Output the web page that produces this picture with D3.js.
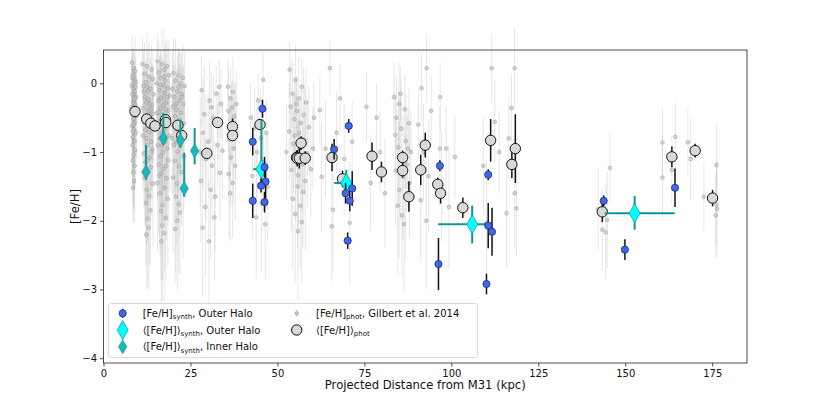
<!DOCTYPE html>
<html><head><meta charset="utf-8">
<script src="https://cdn.jsdelivr.net/npm/d3@7"></script>
<style>body{margin:0;background:#fff}text{font-family:"DejaVu Sans",sans-serif}</style>
</head><body><svg id="c" width="830" height="415"></svg>
<script>
// ---- data ----
const xTicks = [0,25,50,75,100,125,150,175];
const yTicks = [-4,-3,-2,-1,0];
// Gilbert et al. 2014 photometric [Fe/H]: [distance, feh, err]
const photStars = [
[8.2,0.30,0.4],[8.6,0.22,0.3],[9.1,0.18,0.5],[8.4,0.12,0.35],[8.9,0.05,0.4],[9.3,0.02,0.3],[8.1,-0.03,0.45],[8.7,-0.08,0.3],[9.0,-0.12,0.5],[8.3,-0.16,0.4],[9.4,-0.2,0.35],[8.8,-0.24,0.4],[8.5,-0.28,0.6],[9.2,-0.31,0.3],[8.0,-0.35,0.5],[8.9,-0.39,0.4],[8.4,-0.44,0.45],[9.5,-0.48,0.6],[8.6,-0.52,0.5],[9.0,-0.57,0.4],[8.2,-0.62,0.7],[8.8,-0.67,0.5],[9.3,-0.72,0.6],[8.5,-0.78,0.55],[8.9,-0.84,0.7],[8.3,-0.9,0.6],[9.1,-0.97,0.5],[8.7,-1.04,0.8],[8.4,-1.12,0.6],[9.0,-1.2,0.7],[8.6,-1.3,0.5],[8.8,-1.42,0.6],[8.5,-1.52,0.5],[9.2,-0.05,0.3],[8.6,-0.42,0.35],[8.3,0.08,0.35],[9.0,-0.22,0.4],[8.7,-0.6,0.5],[8.4,-0.7,0.6],
[11.2,0.28,0.4],[12.5,0.25,0.5],[13.8,0.2,0.35],[11.8,0.14,0.45],[13.1,0.1,0.5],[14.2,0.06,0.4],[12.2,0.02,0.3],[11.5,-0.04,0.5],[13.5,-0.08,0.45],[12.8,-0.12,0.6],[14.4,-0.16,0.4],[11.9,-0.2,0.5],[13.0,-0.24,0.35],[12.4,-0.28,0.55],[13.9,-0.32,0.6],[11.4,-0.36,0.5],[12.9,-0.4,0.45],[14.1,-0.44,0.7],[12.1,-0.48,0.5],[13.4,-0.52,0.6],[11.7,-0.57,0.55],[12.7,-0.62,0.7],[14.3,-0.66,0.5],[13.2,-0.71,0.6],[11.3,-0.76,0.8],[12.3,-0.8,0.6],[13.7,-0.85,0.7],[12.6,-0.9,0.9],[14.0,-0.96,0.6],[11.6,-1.02,0.8],[13.3,-1.08,0.7],[12.0,-1.15,0.9],[13.6,-1.22,0.8],[12.8,-1.3,1.0],[11.9,-1.38,0.7],[14.2,-1.46,0.9],[12.4,-1.55,0.8],[13.1,-1.64,1.0],[12.2,-1.74,0.9],[13.5,-1.85,0.8],[12.7,-1.97,1.0],[13.0,-2.1,0.9],[12.3,-2.2,0.8],[13.3,-0.3,0.4],[11.6,-0.12,0.4],[14.0,-0.55,0.5],[12.5,-0.05,0.4],[13.6,-0.38,0.5],[12.0,-0.68,0.6],[13.9,-1.0,0.7],[12.6,-1.12,0.8],
[15.5,0.32,0.4],[16.8,0.28,0.5],[18.2,0.25,0.4],[17.4,0.2,0.6],[15.9,0.16,0.45],[18.8,0.12,0.5],[16.4,0.08,0.4],[17.8,0.04,0.55],[15.3,0.0,0.5],[17.1,-0.03,0.4],[18.5,-0.07,0.6],[16.1,-0.1,0.5],[17.6,-0.14,0.45],[19.0,-0.18,0.5],[16.6,-0.21,0.6],[15.7,-0.25,0.5],[18.0,-0.28,0.7],[17.2,-0.32,0.5],[16.3,-0.36,0.6],[18.7,-0.4,0.55],[15.4,-0.43,0.7],[17.0,-0.47,0.6],[17.9,-0.51,0.5],[16.5,-0.55,0.8],[18.4,-0.59,0.6],[15.8,-0.63,0.7],[17.5,-0.67,0.9],[16.9,-0.71,0.6],[18.9,-0.76,0.8],[16.2,-0.8,0.7],[17.7,-0.85,0.9],[15.6,-0.9,0.8],[18.3,-0.95,0.7],[17.0,-1.0,1.0],[16.4,-1.06,0.8],[18.6,-1.12,0.9],[15.9,-1.18,1.0],[17.3,-1.24,0.8],[16.7,-1.31,1.1],[18.1,-1.38,0.9],[15.5,-1.45,1.0],[17.6,-1.52,1.2],[16.2,-1.6,0.9],[18.5,-1.68,1.0],[17.0,-1.77,1.1],[16.5,-1.86,1.0],[17.9,-1.96,0.9],[16.9,-2.07,1.1],[17.4,-2.18,1.0],[16.6,-2.3,0.9],[17.2,-0.6,0.5],[16.0,-0.42,0.4],[18.2,-0.2,0.45],[17.5,0.1,0.4],[16.3,-0.02,0.45],[17.8,-0.38,0.5],[16.8,-0.9,0.7],[18.0,-1.2,0.8],[16.1,-1.35,0.9],
[20.1,0.15,0.5],[21.5,0.12,0.4],[22.8,0.08,0.5],[20.7,0.04,0.6],[22.2,0.0,0.45],[23.3,-0.04,0.5],[19.8,-0.08,0.55],[21.2,-0.12,0.5],[22.5,-0.16,0.6],[20.4,-0.2,0.5],[21.8,-0.25,0.7],[23.0,-0.3,0.55],[19.9,-0.34,0.6],[21.0,-0.38,0.5],[22.3,-0.43,0.7],[20.6,-0.48,0.6],[21.9,-0.53,0.8],[23.2,-0.58,0.6],[20.2,-0.63,0.7],[21.4,-0.68,0.9],[22.7,-0.74,0.7],[19.7,-0.8,0.8],[20.9,-0.86,0.7],[22.1,-0.92,0.9],[21.3,-0.99,1.0],[23.1,-1.06,0.8],[20.5,-1.13,0.9],[21.7,-1.21,1.0],[22.4,-1.29,0.8],[20.0,-1.37,1.1],[21.1,-1.46,0.9],[22.9,-1.55,1.0],[20.8,-1.65,1.1],[21.6,-1.76,1.0],[22.0,-1.88,0.9],[21.2,-2.0,1.0],[20.6,-2.12,0.8],[22.6,-0.2,0.4],[20.3,-0.9,0.7],[21.6,-0.05,0.5],[20.9,-0.3,0.5],[22.0,-0.6,0.6],
[28.2,-0.1,0.5],[30.5,-0.25,0.6],[32.4,-0.15,0.4],[33.8,-0.3,0.5],[29.0,-0.45,0.7],[31.6,-0.5,0.6],[33.0,-0.62,0.5],[28.6,-0.72,0.8],[30.1,-0.85,0.7],[32.8,-0.9,0.6],[34.2,-0.98,0.7],[29.5,-1.1,0.9],[31.2,-1.2,0.8],[33.5,-1.3,0.7],[28.0,-1.42,0.9],[30.8,-1.55,1.0],[32.1,-1.65,0.8],[29.3,-1.8,1.0],[31.9,-1.95,0.9],[28.5,-2.1,1.0],[30.3,-2.3,0.9],[33.3,-0.05,0.4],[31.0,-0.35,0.5],[27.8,-1.0,0.8],
[35.8,-0.05,0.4],[37.2,-0.12,0.5],[36.5,-0.22,0.45],[38.2,-0.3,0.5],[35.9,-0.4,0.6],[37.6,-0.48,0.5],[36.8,-0.58,0.6],[38.0,-0.7,0.7],[36.2,-0.82,0.6],[37.4,-0.95,0.8],[36.6,-1.08,0.7],[37.9,-1.2,0.8],[36.0,-1.32,0.9],[37.1,-1.45,0.8],[36.4,-1.6,0.7],[37.0,-0.35,0.4],
[42.3,-0.5,0.5],[43.5,-0.65,0.6],[45.2,-0.8,0.7],[46.8,-0.72,0.5],[44.1,-1.0,0.8],[46.0,-1.15,0.7],[42.8,-1.35,0.9],[47.2,-1.5,0.8],[45.5,-1.75,1.0],[43.9,-1.95,0.9],[46.5,-2.05,0.8],[45.9,0.05,0.4],[44.5,-0.25,0.4],
[53.5,0.2,0.4],[55.2,0.05,0.5],[57.0,-0.05,0.4],[54.3,-0.15,0.5],[56.1,-0.22,0.6],[58.2,-0.28,0.5],[53.8,-0.34,0.6],[55.6,-0.4,0.5],[57.5,-0.46,0.7],[54.9,-0.52,0.6],[56.7,-0.58,0.5],[59.0,-0.64,0.6],[53.4,-0.7,0.7],[55.0,-0.76,0.6],[57.8,-0.82,0.8],[54.6,-0.88,0.7],[56.4,-0.95,0.6],[58.6,-1.02,0.8],[55.3,-1.1,0.9],[57.2,-1.18,0.7],[54.0,-1.26,0.9],[56.0,-1.34,0.8],[58.0,-1.42,1.0],[55.8,-1.5,0.9],[57.4,-1.58,0.8],[54.4,-1.68,1.0],[56.6,-1.78,0.9],[55.1,-1.9,1.0],[57.0,-2.02,0.9],[55.9,-2.15,1.0],[60.5,-0.5,0.5],[59.6,-1.25,0.7],[60.2,-0.95,0.6],[52.6,-1.0,0.7],[56.2,-0.72,0.5],[55.5,-0.3,0.4],
[62.2,-0.39,0.5],[65.1,0.22,0.4],[68.0,-0.22,0.5],[62.7,-1.36,0.8],[66.0,-1.84,0.9],[65.6,-2.08,0.8],[70.8,-2.03,0.9],[67.0,-0.72,0.6],[63.8,-0.95,0.7],[69.2,-1.1,0.8],[71.5,-0.85,0.6],
[78.5,-0.5,0.5],[80.9,-1.6,0.8],[75.6,-0.34,0.5],[79.5,-1.0,0.6],[76.8,-1.45,0.7],
[83.5,-0.2,0.5],[85.0,-0.3,0.6],[86.6,-0.38,0.5],[84.2,-0.5,0.6],[87.8,-0.58,0.5],[85.6,-0.66,0.7],[83.9,-0.75,0.6],[86.9,-0.84,0.7],[84.8,-0.93,0.8],[88.4,-1.0,0.6],[85.3,-1.1,0.9],[87.2,-1.18,0.7],[84.0,-1.27,0.8],[86.1,-1.36,0.9],[88.0,-1.45,0.8],[85.0,-1.55,1.0],[86.8,-1.66,0.9],[84.6,-1.78,1.0],[85.8,-1.92,0.9],[86.4,-2.05,1.0],[85.4,-0.15,0.4],[87.5,-0.95,0.6],
[90.5,-0.6,0.5],[92.0,-1.0,0.7],[93.5,-1.35,0.8],[91.2,-1.7,0.9],[94.2,-0.4,0.5],[92.8,-2.0,1.0],[91.4,-0.07,0.5],[92.9,0.22,0.5],
[96.8,-0.2,0.5],[98.5,-0.95,0.6],[97.2,-1.5,0.8],[99.3,-1.8,0.9],[96.7,-0.95,0.6],[101.0,-1.07,0.6],
[111.6,0.22,0.5],[118.2,0.22,0.6],[117.3,-0.36,0.5],[118.2,-1.6,0.8],[118.7,-1.82,0.7],[115.9,-1.89,0.8],[112.5,-0.56,0.6],[110.1,-2.03,0.9],[109.2,-1.2,0.7],[113.8,-1.0,0.6],[116.5,-0.8,0.6],
[145.6,-1.23,0.5],[142.2,-1.83,0.6],[144.8,-1.99,0.7],[143.4,-2.13,0.6],[144.4,-2.17,0.7],[160.7,-0.86,0.5],[164.4,-0.78,0.5],[160.7,-1.37,0.6],[163.4,-1.26,0.5],[168.0,-0.86,0.5],[168.8,-1.1,0.6],[176.2,-1.19,0.6],[172.6,-1.65,0.5],[176.4,-1.83,0.7],[176.0,-1.92,0.6],[176.2,-1.77,0.6]
];
// <[Fe/H]>_phot field means: [distance, feh, err]
const photMeans = [
[9.05,-0.41,0.02],[12.4,-0.52,0.02],[13.6,-0.58,0.02],[14.8,-0.62,0.02],[17.8,-0.53,0.05],[17.9,-0.57,0.05],[21.4,-0.61,0.03],[22.5,-0.76,0.04],[29.7,-1.02,0.05],[32.8,-0.57,0.03],[37.1,-0.63,0.12],[37.1,-0.76,0.08],[45.0,-0.60,0.05],[55.5,-1.08,0.1],[56.8,-0.87,0.1],[55.7,-1.09,0.12],[56.3,-1.09,0.15],[58.0,-1.09,0.1],[65.7,-1.08,0.2],[68.7,-1.39,0.12],[77.2,-1.06,0.2],[79.9,-1.29,0.15],[86.0,-1.08,0.1],[86.0,-1.27,0.1],[87.8,-1.65,0.22],[92.5,-0.90,0.18],[91.2,-1.26,0.22],[96.1,-1.47,0.1],[96.9,-1.60,0.15],[103.3,-1.81,0.15],[111.3,-0.83,0.31],[118.4,-0.95,0.5],[117.4,-1.18,0.2],[143.4,-1.87,0.15],[163.4,-1.07,0.15],[170.1,-0.98,0.1],[175.1,-1.67,0.12]
];
// [Fe/H]_synth, outer halo: [distance, feh, err]
const synthOuter = [
[45.7,-0.37,0.13],[42.9,-0.85,0.2],[42.9,-1.71,0.25],[46.3,-1.22,0.15],[46.6,-1.43,0.25],[45.3,-1.49,0.1],[46.3,-1.73,0.15],[70.5,-0.62,0.1],[66.3,-0.96,0.15],[69.6,-1.60,0.15],[71.5,-1.53,0.25],[70.8,-1.71,0.15],[70.2,-2.29,0.12],[96.7,-1.20,0.08],[96.3,-2.63,0.38],[110.6,-1.33,0.08],[110.6,-2.07,0.33],[111.7,-2.16,0.35],[110.1,-2.92,0.15],[143.8,-1.71,0.08],[149.9,-2.42,0.15],[164.3,-1.52,0.28]
];
// <[Fe/H]>_synth outer halo: [distance, xlo, xhi, feh, ylo, yhi]
const meanOuter = [
[45.4,43.0,47.0,-1.25,-1.45,-0.53],[69.8,66.3,71.3,-1.45,-1.65,-1.26],[106.0,96.2,111.6,-2.05,-2.33,-1.78],[152.7,144.1,164.2,-1.89,-2.13,-1.64]
];
// <[Fe/H]>_synth inner halo: [distance, feh, ylo, yhi]
const meanInner = [
[12.2,-1.29,-1.40,-0.90],[17.2,-0.80,-0.90,-0.43],[22.1,-0.83,-0.93,-0.53],[26.2,-0.98,-1.18,-0.65],[23.2,-1.53,-1.65,-1.01]
];

// ---- chart ----
const svg = d3.select("#c");
const L=103.5,R=747,T=50,B=363;
const x = d3.scaleLinear([0,185],[L,R]);
const y = d3.scaleLinear([-4.07,0.485],[B,T]);
const fmt = v => (v<0?"\u2212":"")+Math.abs(v);

const g = svg.append("g");
// gray stars
g.append("g").selectAll("line").data(photStars).join("line")
 .attr("x1",d=>x(d[0])).attr("x2",d=>x(d[0]))
 .attr("y1",d=>y(d[1]-d[2])).attr("y2",d=>y(d[1]+d[2]))
 .attr("stroke","#b5b5b5").attr("stroke-opacity",0.32).attr("stroke-width",1);
g.append("g").selectAll("circle").data(photStars).join("circle")
 .attr("cx",d=>x(d[0])).attr("cy",d=>y(d[1])).attr("r",1.9)
 .attr("fill","#c4c4c4").attr("fill-opacity",0.7)
 .attr("stroke","#808080").attr("stroke-opacity",0.7).attr("stroke-width",0.5);

// phot means
g.append("g").selectAll("line").data(photMeans).join("line")
 .attr("x1",d=>x(d[0])).attr("x2",d=>x(d[0]))
 .attr("y1",d=>y(d[1]-d[2])).attr("y2",d=>y(d[1]+d[2]))
 .attr("stroke","#111").attr("stroke-width",1.5);
g.append("g").selectAll("circle").data(photMeans).join("circle")
 .attr("cx",d=>x(d[0])).attr("cy",d=>y(d[1])).attr("r",5.2)
 .attr("fill","#d9d9d9").attr("stroke","#111").attr("stroke-width",1);

const diamond = (hw,hh)=>`M0,${-hh}L${hw},0L0,${hh}L${-hw},0Z`;
// inner halo means
const gi = g.append("g");
gi.selectAll("line").data(meanInner).join("line")
 .attr("x1",d=>x(d[0])).attr("x2",d=>x(d[0]))
 .attr("y1",d=>y(d[2])).attr("y2",d=>y(d[3]))
 .attr("stroke","#0e9a9a").attr("stroke-width",2);
gi.selectAll("path").data(meanInner).join("path")
 .attr("transform",d=>`translate(${x(d[0])},${y(d[1])})`)
 .attr("d",diamond(4.2,7)).attr("fill","#1ab8b8").attr("stroke","#0e8f8f").attr("stroke-width",0.6);

// outer halo means
const go = g.append("g");
go.selectAll("line.h").data(meanOuter).join("line").attr("class","h")
 .attr("x1",d=>x(d[1])).attr("x2",d=>x(d[2]))
 .attr("y1",d=>y(d[3])).attr("y2",d=>y(d[3]))
 .attr("stroke","#0e9696").attr("stroke-width",2);
go.selectAll("line.v").data(meanOuter).join("line").attr("class","v")
 .attr("x1",d=>x(d[0])).attr("x2",d=>x(d[0]))
 .attr("y1",d=>y(d[4])).attr("y2",d=>y(d[5]))
 .attr("stroke","#0e9696").attr("stroke-width",2);
go.selectAll("path").data(meanOuter).join("path")
 .attr("transform",d=>`translate(${x(d[0])},${y(d[3])})`)
 .attr("d",diamond(5.5,9.5)).attr("fill","#00ffff").attr("stroke","#0e9696").attr("stroke-width",0.7);

// synth outer halo stars
g.append("g").selectAll("line").data(synthOuter).join("line")
 .attr("x1",d=>x(d[0])).attr("x2",d=>x(d[0]))
 .attr("y1",d=>y(d[1]-d[2])).attr("y2",d=>y(d[1]+d[2]))
 .attr("stroke","#111").attr("stroke-width",1.5);
g.append("g").selectAll("circle").data(synthOuter).join("circle")
 .attr("cx",d=>x(d[0])).attr("cy",d=>y(d[1])).attr("r",3.6)
 .attr("fill","#4169e1").attr("stroke","#1a2a80").attr("stroke-width",0.8);

// frame
svg.append("rect").attr("x",L).attr("y",T).attr("width",R-L).attr("height",B-T)
 .attr("fill","none").attr("stroke","#222").attr("stroke-width",0.8);

// axes
const ax = svg.append("g").attr("transform",`translate(0,${B})`)
 .call(d3.axisBottom(x).tickValues(xTicks).tickSize(3.5).tickPadding(3).tickFormat(d=>d));
const ay = svg.append("g").attr("transform",`translate(${L},0)`)
 .call(d3.axisLeft(y).tickValues(yTicks).tickSize(3.5).tickPadding(3).tickFormat(fmt));
[ax,ay].forEach(a=>{a.select(".domain").remove();
 a.selectAll("text").attr("font-size",10).attr("fill","#111").attr("font-family","DejaVu Sans");
 a.selectAll("line").attr("stroke","#222").attr("stroke-width",0.8);});

svg.append("text").attr("x",(L+R)/2).attr("y",389).attr("text-anchor","middle")
 .attr("font-size",11.6).attr("fill","#111").text("Projected Distance from M31 (kpc)");
svg.append("text").attr("transform",`translate(79,${(T+B)/2}) rotate(-90)`).attr("text-anchor","middle")
 .attr("font-size",11.6).attr("fill","#111").text("[Fe/H]");

// legend
const lg = svg.append("g");
lg.append("rect").attr("x",108.5).attr("y",303.5).attr("width",369).attr("height",54).attr("rx",2.5)
 .attr("fill","#fff").attr("fill-opacity",0.85).attr("stroke","#cfcfcf").attr("stroke-width",0.8);
function label(tx,ty,parts){
 const t = lg.append("text").attr("x",tx).attr("y",ty).attr("font-size",10).attr("fill","#111");
 let shift = 0;
 parts.forEach(p=>{
  if(p.sub){t.append("tspan").attr("font-size",7).attr("dy",2.5).text(p.sub); shift = -2.5;}
  else {const s = t.append("tspan").text(p.t); if(shift){s.attr("dy",shift); shift=0;}}
 });
}
const r1=313.3,r2=330,r3=346.7, c1=122.7, c2=296.7;
lg.append("line").attr("x1",c1).attr("x2",c1).attr("y1",r1-4.5).attr("y2",r1+4.5).attr("stroke","#111").attr("stroke-width",1.5);
lg.append("circle").attr("cx",c1).attr("cy",r1).attr("r",3.6).attr("fill","#4169e1").attr("stroke","#1a2a80").attr("stroke-width",0.8);
label(142.7,r1+3.6,[{t:"[Fe/H]"},{sub:"synth"},{t:", Outer Halo"}]);
lg.append("path").attr("transform",`translate(${c1},${r2})`).attr("d",diamond(5.5,9.5)).attr("fill","#00ffff").attr("stroke","#0e9696").attr("stroke-width",0.7);
label(142.7,r2+3.6,[{t:"\u27e8[Fe/H]\u27e9"},{sub:"synth"},{t:", Outer Halo"}]);
lg.append("path").attr("transform",`translate(${c1},${r3})`).attr("d",diamond(4.2,7)).attr("fill","#1ab8b8").attr("stroke","#0e8f8f").attr("stroke-width",0.6);
label(142.7,r3+3.6,[{t:"\u27e8[Fe/H]\u27e9"},{sub:"synth"},{t:", Inner Halo"}]);
lg.append("line").attr("x1",c2).attr("x2",c2).attr("y1",r1-4).attr("y2",r1+4).attr("stroke","#b5b5b5").attr("stroke-opacity",0.5);
lg.append("circle").attr("cx",c2).attr("cy",r1).attr("r",1.9).attr("fill","#c4c4c4").attr("stroke","#808080").attr("stroke-opacity",0.7).attr("stroke-width",0.5);
label(316,r1+3.6,[{t:"[Fe/H]"},{sub:"phot"},{t:", Gilbert et al. 2014"}]);
lg.append("line").attr("x1",c2).attr("x2",c2).attr("y1",r2-5).attr("y2",r2+5).attr("stroke","#111").attr("stroke-width",1.5);
lg.append("circle").attr("cx",c2).attr("cy",r2).attr("r",5.2).attr("fill","#d9d9d9").attr("stroke","#111").attr("stroke-width",1);
label(316,r2+3.6,[{t:"\u27e8[Fe/H]\u27e9"},{sub:"phot"}]);
</script></body></html>
